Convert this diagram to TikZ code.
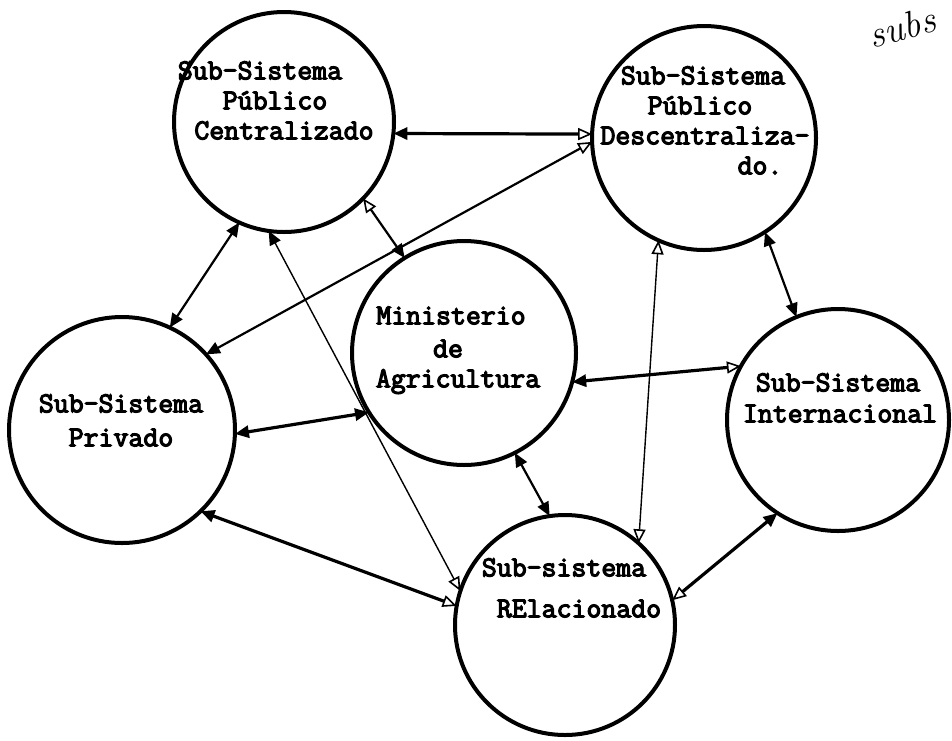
\documentclass[tikz,border=0pt]{standalone}
\usepackage{fontspec}
\usetikzlibrary{arrows.meta}
% heavy typewriter face for the labels
\newfontfamily\typer[FakeBold=4]{Latin Modern Mono}
\tikzset{
  Fh/.tip={Triangle[length=7pt,width=6pt]},
  Oh/.tip={Triangle[open,length=7pt,width=6pt,line width=0.8pt]},
}
\begin{document}
\begin{tikzpicture}[x=0.5pt, y=-0.5pt,
  sys/.style={circle, draw, line width=2pt, inner sep=0pt, outer sep=0pt},
  lbl/.style={font=\typer\bfseries\fontsize{14.5}{15}\selectfont, inner sep=0pt, anchor=mid},
  heavy/.style={line width=1.6pt},
  medium/.style={line width=1.1pt},
  light/.style={line width=0.7pt},
]
\useasboundingbox (0,0) rectangle (952,740);
\fill[white] (0,0) rectangle (952,740);

% the six sub-systems
\node[sys, minimum size=110pt] (cen) at (284,122) {};
\node[sys, minimum size=112pt] (des) at (704,138) {};
\node[sys, minimum size=112pt] (min) at (464,353) {};
\node[sys, minimum size=113pt] (pri) at (122,430) {};
\node[sys, minimum size=111pt] (int) at (838,420) {};
\node[sys, minimum size=110pt] (rel) at (565,625) {};

% labels, typed line by line
\node[lbl] (cen1) at (260,75)  {Sub-Sistema};
\node[lbl] (cen2) at (275,105) {Público};
\node[lbl] (cen3) at (284,135) {Centralizado};

\node[lbl] (des1) at (703,80)  {Sub-Sistema};
\node[lbl] (des2) at (700,110) {Público};
\node[lbl] (des3) at (705,140) {Descentraliza-};
\node[lbl] (des4) at (760,170) {do.};

\node[lbl] (min1) at (451,320) {Ministerio};
\node[lbl] (min2) at (448,353) {de};
\node[lbl] (min3) at (458,383) {Agricultura};

\node[lbl] (pri1) at (121,408) {Sub-Sistema};
\node[lbl] (pri2) at (121,442) {Privado};

\node[lbl] (int1) at (838,387) {Sub-Sistema};
\node[lbl] (int2) at (840,418) {Internacional};

\node[lbl] (rel1) at (564,572) {Sub-sistema};
\node[lbl] (rel2) at (579,613) {RElacionado};

% relations
\draw[heavy, Fh-Oh]  (cen.-6.5)   -- (des.178.5);
\draw[medium, Fh-Oh] (pri.42.3)   -- (des.182.4);
\draw[medium, Fh-Fh] (cen.-114.1) -- (pri.65.8);
\draw[medium, Oh-Fh] (cen.-44)    -- (min.122.5);
\draw[light, Fh-Oh]  (cen.-98.4)  -- (rel.162.2);
\draw[heavy, Fh-Fh]  (pri.-2.5)   -- (min.212.6);
\draw[heavy, Fh-Oh]  (pri.-46.7)  -- (rel.170);
\draw[heavy, Fh-Oh]  (min.-15.8)  -- (int.151.2);
\draw[medium, Fh-Fh] (min.-63.2)  -- (rel.98.6);
\draw[light, Oh-Oh]  (des.-114.3) -- (rel.48.8);
\draw[medium, Fh-Fh] (des.-57.5)  -- (int.112.9);
\draw[heavy, Fh-Oh]  (int.-123.4) -- (rel.13.7);

% pencilled note in the corner
\node[font=\itshape\fontsize{19}{19}\selectfont, rotate=15, inner sep=0pt] (note) at (902,27) {subs};
\end{tikzpicture}
\end{document}
